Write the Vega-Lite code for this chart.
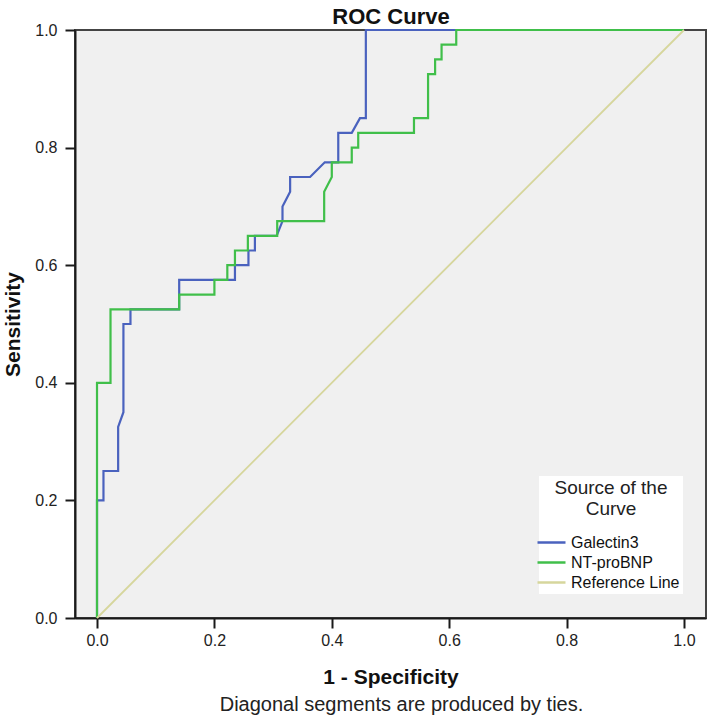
{
  "$schema": "https://vega.github.io/schema/vega-lite/v6.json",
  "width": 631,
  "height": 588,
  "autosize": {"type": "none"},
  "padding": {"left": 75, "top": 30, "right": 3, "bottom": 105},
  "background": "white",
  "config": {
    "font": "Liberation Sans",
    "view": {"fill": "#f0f0f0", "stroke": "#444444", "strokeWidth": 2},
    "axis": {
      "grid": false,
      "domainColor": "#1a1a1a",
      "domainWidth": 2,
      "tickColor": "#1a1a1a",
      "tickWidth": 2,
      "tickSize": 10,
      "labelFontSize": 16,
      "labelColor": "#222222",
      "labelFont": "Liberation Sans",
      "titleFont": "Liberation Sans",
      "titleFontSize": 21,
      "titleFontWeight": "bold",
      "titleColor": "#111111"
    },
    "legend": {
      "orient": "none", "legendX": 464, "legendY": 446,
      "titleFontSize": 19, "titleFontWeight": "normal", "titleColor": "#222222", "titleFont": "Liberation Sans",
      "titleAlign": "center", "titleAnchor": "middle", "titleLineHeight": 21, "titlePadding": 14,
      "labelFontSize": 16, "labelColor": "#111111", "labelFont": "Liberation Sans", "labelOffset": 10,
      "symbolType": "M-1.75,0H1.75", "symbolSize": 256, "symbolStrokeWidth": 2.5,
      "rowPadding": 2,
      "fillColor": "white", "padding": 3
    }
  },
  "title": {
    "text": "Diagonal segments are produced by ties.",
    "orient": "bottom",
    "anchor": "middle",
    "font": "Liberation Sans",
    "fontSize": 20,
    "fontWeight": "normal",
    "color": "#222222",
    "offset": 8,
    "dx": 11
  },
  "datasets": {
    "roc": [
      {"series": "Galectin3", "i": 1, "fpr": 0.0, "tpr": 0.0},
      {"series": "Galectin3", "i": 2, "fpr": 0.0, "tpr": 0.2},
      {"series": "Galectin3", "i": 3, "fpr": 0.011, "tpr": 0.2},
      {"series": "Galectin3", "i": 4, "fpr": 0.011, "tpr": 0.25},
      {"series": "Galectin3", "i": 5, "fpr": 0.036, "tpr": 0.25},
      {"series": "Galectin3", "i": 6, "fpr": 0.036, "tpr": 0.325},
      {"series": "Galectin3", "i": 7, "fpr": 0.045, "tpr": 0.35},
      {"series": "Galectin3", "i": 8, "fpr": 0.045, "tpr": 0.5},
      {"series": "Galectin3", "i": 9, "fpr": 0.057, "tpr": 0.5},
      {"series": "Galectin3", "i": 10, "fpr": 0.057, "tpr": 0.525},
      {"series": "Galectin3", "i": 11, "fpr": 0.14, "tpr": 0.525},
      {"series": "Galectin3", "i": 12, "fpr": 0.14, "tpr": 0.575},
      {"series": "Galectin3", "i": 13, "fpr": 0.235, "tpr": 0.575},
      {"series": "Galectin3", "i": 14, "fpr": 0.235, "tpr": 0.6},
      {"series": "Galectin3", "i": 15, "fpr": 0.258, "tpr": 0.6},
      {"series": "Galectin3", "i": 16, "fpr": 0.258, "tpr": 0.625},
      {"series": "Galectin3", "i": 17, "fpr": 0.269, "tpr": 0.625},
      {"series": "Galectin3", "i": 18, "fpr": 0.269, "tpr": 0.65},
      {"series": "Galectin3", "i": 19, "fpr": 0.306, "tpr": 0.65},
      {"series": "Galectin3", "i": 20, "fpr": 0.316, "tpr": 0.675},
      {"series": "Galectin3", "i": 21, "fpr": 0.316, "tpr": 0.7},
      {"series": "Galectin3", "i": 22, "fpr": 0.329, "tpr": 0.725},
      {"series": "Galectin3", "i": 23, "fpr": 0.329, "tpr": 0.75},
      {"series": "Galectin3", "i": 24, "fpr": 0.363, "tpr": 0.75},
      {"series": "Galectin3", "i": 25, "fpr": 0.388, "tpr": 0.775},
      {"series": "Galectin3", "i": 26, "fpr": 0.411, "tpr": 0.775},
      {"series": "Galectin3", "i": 27, "fpr": 0.411, "tpr": 0.825},
      {"series": "Galectin3", "i": 28, "fpr": 0.434, "tpr": 0.825},
      {"series": "Galectin3", "i": 29, "fpr": 0.448, "tpr": 0.85},
      {"series": "Galectin3", "i": 30, "fpr": 0.458, "tpr": 0.85},
      {"series": "Galectin3", "i": 31, "fpr": 0.458, "tpr": 1.0},
      {"series": "Galectin3", "i": 32, "fpr": 1.0, "tpr": 1.0},
      {"series": "NT-proBNP", "i": 1, "fpr": 0.0, "tpr": 0.0},
      {"series": "NT-proBNP", "i": 2, "fpr": 0.0, "tpr": 0.4},
      {"series": "NT-proBNP", "i": 3, "fpr": 0.023, "tpr": 0.4},
      {"series": "NT-proBNP", "i": 4, "fpr": 0.023, "tpr": 0.525},
      {"series": "NT-proBNP", "i": 5, "fpr": 0.14, "tpr": 0.525},
      {"series": "NT-proBNP", "i": 6, "fpr": 0.14, "tpr": 0.55},
      {"series": "NT-proBNP", "i": 7, "fpr": 0.2, "tpr": 0.55},
      {"series": "NT-proBNP", "i": 8, "fpr": 0.2, "tpr": 0.575},
      {"series": "NT-proBNP", "i": 9, "fpr": 0.222, "tpr": 0.575},
      {"series": "NT-proBNP", "i": 10, "fpr": 0.222, "tpr": 0.6},
      {"series": "NT-proBNP", "i": 11, "fpr": 0.235, "tpr": 0.6},
      {"series": "NT-proBNP", "i": 12, "fpr": 0.235, "tpr": 0.625},
      {"series": "NT-proBNP", "i": 13, "fpr": 0.257, "tpr": 0.625},
      {"series": "NT-proBNP", "i": 14, "fpr": 0.257, "tpr": 0.65},
      {"series": "NT-proBNP", "i": 15, "fpr": 0.307, "tpr": 0.65},
      {"series": "NT-proBNP", "i": 16, "fpr": 0.307, "tpr": 0.675},
      {"series": "NT-proBNP", "i": 17, "fpr": 0.387, "tpr": 0.675},
      {"series": "NT-proBNP", "i": 18, "fpr": 0.387, "tpr": 0.725},
      {"series": "NT-proBNP", "i": 19, "fpr": 0.4, "tpr": 0.75},
      {"series": "NT-proBNP", "i": 20, "fpr": 0.4, "tpr": 0.775},
      {"series": "NT-proBNP", "i": 21, "fpr": 0.434, "tpr": 0.775},
      {"series": "NT-proBNP", "i": 22, "fpr": 0.434, "tpr": 0.8},
      {"series": "NT-proBNP", "i": 23, "fpr": 0.445, "tpr": 0.8},
      {"series": "NT-proBNP", "i": 24, "fpr": 0.445, "tpr": 0.825},
      {"series": "NT-proBNP", "i": 25, "fpr": 0.54, "tpr": 0.825},
      {"series": "NT-proBNP", "i": 26, "fpr": 0.54, "tpr": 0.85},
      {"series": "NT-proBNP", "i": 27, "fpr": 0.564, "tpr": 0.85},
      {"series": "NT-proBNP", "i": 28, "fpr": 0.564, "tpr": 0.925},
      {"series": "NT-proBNP", "i": 29, "fpr": 0.576, "tpr": 0.925},
      {"series": "NT-proBNP", "i": 30, "fpr": 0.576, "tpr": 0.95},
      {"series": "NT-proBNP", "i": 31, "fpr": 0.587, "tpr": 0.95},
      {"series": "NT-proBNP", "i": 32, "fpr": 0.587, "tpr": 0.975},
      {"series": "NT-proBNP", "i": 33, "fpr": 0.612, "tpr": 0.975},
      {"series": "NT-proBNP", "i": 34, "fpr": 0.612, "tpr": 1.0},
      {"series": "NT-proBNP", "i": 35, "fpr": 1.0, "tpr": 1.0},
      {"series": "Reference Line", "i": 1, "fpr": 0.0, "tpr": 0.0},
      {"series": "Reference Line", "i": 2, "fpr": 1.0, "tpr": 1.0}
    ]
  },
  "data": {"name": "roc"},
  "resolve": {"axis": {"x": "independent", "y": "independent"}},
  "layer": [
    {
      "transform": [{"filter": "datum.series === 'Galectin3'"}],
      "mark": {"type": "line", "strokeWidth": 2.2, "interpolate": "linear"},
      "encoding": {
        "x": {
          "field": "fpr", "type": "quantitative",
          "scale": {"domain": [-0.0375, 1.0375], "nice": false, "zero": false},
          "axis": {"values": [0, 0.2, 0.4, 0.6, 0.8, 1.0], "format": ".1f", "title": "1 - Specificity", "labelPadding": 4, "titlePadding": 18}
        },
        "y": {
          "field": "tpr", "type": "quantitative",
          "scale": {"domain": [0, 1], "nice": false, "zero": false},
          "axis": {"values": [0, 0.2, 0.4, 0.6, 0.8, 1.0], "format": ".1f", "title": "Sensitivity", "labelPadding": 8, "titlePadding": 11}
        },
        "order": {"field": "i", "type": "quantitative"},
        "color": {
          "field": "series", "type": "nominal",
          "scale": {"domain": ["Galectin3", "NT-proBNP", "Reference Line"], "range": ["#4a62be", "#40bf4a", "#d6d69c"]},
          "legend": {"title": ["Source of the", "Curve"]}
        }
      }
    },
    {
      "transform": [{"filter": "datum.series === 'NT-proBNP'"}],
      "mark": {"type": "line", "strokeWidth": 2.2, "interpolate": "linear"},
      "encoding": {
        "x": {"field": "fpr", "type": "quantitative", "axis": null},
        "y": {"field": "tpr", "type": "quantitative", "axis": null},
        "order": {"field": "i", "type": "quantitative"},
        "color": {
          "field": "series", "type": "nominal",
          "legend": {"title": ["Source of the", "Curve"]}
        }
      }
    },
    {
      "transform": [{"filter": "datum.series === 'Reference Line'"}],
      "mark": {"type": "line", "strokeWidth": 1.8, "interpolate": "linear"},
      "encoding": {
        "x": {
          "field": "fpr", "type": "quantitative",
          "axis": {"orient": "top", "labels": false, "ticks": false, "domain": false, "title": "ROC Curve", "titleFontSize": 22, "titlePadding": 2}
        },
        "y": {"field": "tpr", "type": "quantitative", "axis": null},
        "order": {"field": "i", "type": "quantitative"},
        "color": {
          "field": "series", "type": "nominal",
          "legend": {"title": ["Source of the", "Curve"]}
        }
      }
    }
  ]
}
